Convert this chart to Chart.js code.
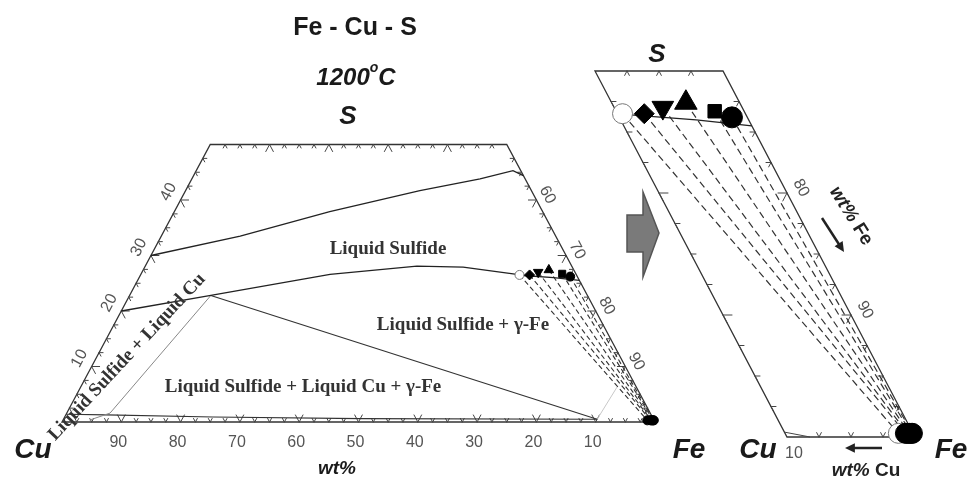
<!DOCTYPE html>
<html><head><meta charset="utf-8">
<script src="https://cdn.jsdelivr.net/npm/chart.js@4.4.1/dist/chart.umd.min.js"></script>
<style>html,body{margin:0;padding:0;background:#fff}#wrap{width:968px;height:479px;position:relative}</style>
</head><body><div id="wrap"><canvas id="c" width="968" height="479"></canvas></div>
<script>
// ---------- data (wt%, Cu = 100 - Fe - S) ----------
// liquid sulfide, S-rich boundary
const sRichFe = [0, 13.3, 26.2, 39.5, 48.6, 53.4, 55.6];
const sRichS  = [30, 33.5, 37.9, 41.7, 43.8, 45.3, 44.4];
// liquid sulfide, S-poor boundary
const sPoorFe = [0, 13.7, 31.9, 45.8, 53.7, 63.4, 64.6, 69.9, 74.5];
const sPoorS  = [20, 22.8, 26.6, 28.1, 27.9, 26.6, 26.4, 26.0, 25.5];
// three-phase triangle: liquid sulfide - gamma-Fe
const triSFe = [13.7, 90.0];
const triSS  = [22.8, 0.5];
// liquid sulfide - liquid Cu (thin)
const lsLcuFe = [13.7, 7.3, 4.5];
const lsLcuS  = [22.8, 1.6, 0.36];
// liquid Cu - gamma-Fe (near Cu-Fe side)
const lcuGamFe = [0, 6.8, 25, 50, 90.0];
const lcuGamS  = [1.4, 1.3, 0.9, 0.6, 0.5];
// gamma-Fe boundary (thin)
const gamBFe = [90.0, 90.45];
const gamBS  = [0.5, 6.3];
// corner detail in the enlarged view
const cornerFe = [89.6, 91.8];
const cornerS  = [0.4, 0.0];
// measured tie-lines: liquid sulfide end
const liqCu = [9.6, 7.9, 6.2, 4.2, 2.3, 1.2];
const liqS  = [26.5, 26.5, 27.0, 27.4, 26.7, 26.2];
// measured tie-lines: gamma-Fe end
const gamCu = [1.15, 0.6, 0.45, 0.3, 0.15, 0.05];
const gamS  = [0.3, 0.3, 0.3, 0.3, 0.3, 0.3];
const markerStyles = ['circle','rectRot','triangle','triangle','rect','circle'];
const markerRot    = [0, 0, 180, 0, 0, 0];
const markerFill   = ['#ffffff','#000','#000','#000','#000','#000'];
const markerEdge   = ['#777','#000','#000','#000','#000','#000'];
// tick labels
const leftBottomLabels = [90,80,70,60,50,40,30,20,10]; // wt% Cu
const leftSLabels  = [10,20,30,40];                     // wt% S
const leftFeLabels = [60,70,80,90];                     // wt% Fe
const rightFeLabels = [80,90];
const rightCuLabels = [10];

// ---------- ternary -> plot-unit mapping ----------
const L = {x0:62, kx:5.93, y0:422, ky:5.55};
const R = {x0:-365, kx:12.8, y0:437, ky:12.2};
function P(m, fe, s){ return {x: m.x0 + (fe + s/2)*m.kx, y: m.y0 - s*m.ky}; }
function pts(m, fes, ss){ return fes.map((f,i)=>P(m,f,ss[i])); }

function line(data, color, width, dash){
  return {type:'scatter', data, showLine:true, pointRadius:0, borderColor:color, backgroundColor:color,
    borderWidth:width, borderDash:dash||[], tension:0, order:2, fill:false, clip:false};
}
function markers(data, radii, styles, fills, edges, rots, bw){
  return {type:'scatter', data, showLine:false, pointStyle:styles, pointRotation:rots,
    pointRadius:radii, pointBackgroundColor:fills, pointBorderColor:edges, pointBorderWidth:bw, order:0, clip:false};
}

const datasets = [];
// left panel
datasets.push(line(pts(L, sRichFe, sRichS), '#222', 1.3));
datasets.push(line(pts(L, sPoorFe, sPoorS), '#222', 1.3));
datasets.push(line(pts(L, triSFe, triSS), '#333', 1.2));
datasets.push(line(pts(L, lsLcuFe, lsLcuS), '#888', 1));
datasets.push(line(pts(L, lcuGamFe, lcuGamS), '#333', 1.2));
datasets.push(line(pts(L, gamBFe, gamBS), '#c8c8c8', 1));
liqCu.forEach((c,i)=>{
  const a = P(L, 100-c-liqS[i], liqS[i]), b = P(L, 100-gamCu[i]-gamS[i], gamS[i]);
  datasets.push(line([a,b], '#333', 1.1, [5,3]));
});
datasets.push(markers(liqCu.map((c,i)=>P(L,100-c-liqS[i],liqS[i])), [4.5,5,5.5,5.5,5,4.5], markerStyles, markerFill, markerEdge, markerRot, 1));
datasets.push(markers(gamCu.map((c,i)=>P(L,100-c-gamS[i],gamS[i])), [4.5,4.5,4.5,4.5,4.5,4.5], markerStyles.map(()=> 'circle'), '#000', '#000', 0, 1));
// right (enlarged) panel
const rPoorFe = [], rPoorS = [];
sPoorFe.forEach((f,i)=>{ if (100-f-sPoorS[i] <= 10.05){ rPoorFe.push(f); rPoorS.push(sPoorS[i]); } });
datasets.push(line(pts(R, rPoorFe, rPoorS), '#222', 1.3));
datasets.push(line(pts(R, cornerFe, cornerS), '#444', 1));
liqCu.forEach((c,i)=>{
  const a = P(R, 100-c-liqS[i], liqS[i]), b = P(R, 100-gamCu[i]-gamS[i], gamS[i]);
  datasets.push(line([a,b], '#333', 1.2, [7,4]));
});
datasets.push(markers(liqCu.map((c,i)=>P(R,100-c-liqS[i],liqS[i])), [10,10,12.5,13,9.5,10.5], markerStyles, markerFill, markerEdge, markerRot, 1));
datasets.push(markers(gamCu.map((c,i)=>P(R,100-c-gamS[i],gamS[i])), [10,10,10,10,10,10], markerStyles.map(()=>'circle'), markerFill, markerEdge, 0, 1));

// ---------- frame / ticks / text plugin (through the chart scales) ----------
let SX, SY;
function px(p){ return {x: SX.getPixelForValue(p.x), y: SY.getPixelForValue(p.y)}; }
function Q(m, fe, s){ return px(P(m, fe, s)); }
function seg(ctx,a,b){ctx.beginPath();ctx.moveTo(a.x,a.y);ctx.lineTo(b.x,b.y);ctx.stroke();}
function ticks(ctx, m, pointsList, dirs, isMajor, lMin, lMaj){
  pointsList.forEach(p=>{
    const o = Q(m, p[0], p[1]);
    const len = isMajor(p) ? lMaj : lMin;
    dirs.forEach(d=>{
      const q = Q(m, p[0]+d[0], p[1]+d[1]);
      const dx=q.x-o.x, dy=q.y-o.y, n=Math.hypot(dx,dy);
      seg(ctx, o, {x:o.x+dx/n*len, y:o.y+dy/n*len});
    });
  });
}
function range(a,b,s){const r=[];for(let v=a;v<=b+1e-9;v+=s)r.push(+v.toFixed(3));return r;}
function rtext(ctx, txt, x, y, ang, font, color){
  ctx.save();ctx.translate(x,y);ctx.rotate(ang*Math.PI/180);ctx.font=font;ctx.fillStyle=color;
  ctx.textAlign='center';ctx.textBaseline='middle';ctx.fillText(txt,0,0);ctx.restore();
}
function arrow(ctx, x1,y1,x2,y2, head){
  const a=Math.atan2(y2-y1,x2-x1);
  ctx.beginPath();ctx.moveTo(x1,y1);ctx.lineTo(x2-Math.cos(a)*head*0.6,y2-Math.sin(a)*head*0.6);ctx.stroke();
  ctx.beginPath();ctx.moveTo(x2,y2);
  ctx.lineTo(x2-Math.cos(a-0.45)*head, y2-Math.sin(a-0.45)*head);
  ctx.lineTo(x2-Math.cos(a+0.45)*head, y2-Math.sin(a+0.45)*head);
  ctx.closePath();ctx.fill();
}

const framePlugin = {
  id:'frame',
  beforeDatasetsDraw(chart){
    SX = chart.scales.x; SY = chart.scales.y;
    const ctx = chart.ctx;
    ctx.save();
    ctx.strokeStyle='#333'; ctx.lineWidth=1.3; ctx.lineCap='round';
    const lc=[[0,0],[100,0],[50,50],[0,50]].map(p=>Q(L,p[0],p[1]));
    ctx.beginPath(); lc.forEach((p,i)=> i?ctx.lineTo(p.x,p.y):ctx.moveTo(p.x,p.y)); ctx.closePath(); ctx.stroke();
    const rc=[[90,0],[100,0],[70,30],[60,30]].map(p=>Q(R,p[0],p[1]));
    ctx.beginPath(); rc.forEach((p,i)=> i?ctx.lineTo(p.x,p.y):ctx.moveTo(p.x,p.y)); ctx.closePath(); ctx.stroke();
    ctx.lineWidth=1; ctx.strokeStyle='#444';
    const maj10 = v => Math.abs(v/10-Math.round(v/10))<1e-6;
    ticks(ctx, L, range(2.5,97.5,2.5).map(f=>[f,0]), [[0,1],[-1,1]], p=>maj10(p[0]), 4, 8);
    ticks(ctx, L, range(2.5,47.5,2.5).map(s=>[0,s]), [[1,0],[1,-1]], p=>maj10(p[1]), 4, 8);
    ticks(ctx, L, range(2.5,47.5,2.5).map(f=>[f,50]), [[0,-1],[1,-1]], p=>maj10(p[0]), 4, 8);
    ticks(ctx, L, range(2.5,47.5,2.5).map(s=>[100-s,s]), [[-1,0],[0,-1]], p=>maj10(p[1]), 4, 8);
    ticks(ctx, R, range(2.5,27.5,2.5).map(s=>[90-s,s]), [[1,0],[1,-1]], p=>maj10(p[1]), 5, 9);
    ticks(ctx, R, range(2.5,27.5,2.5).map(s=>[100-s,s]), [[-1,0],[0,-1]], p=>maj10(p[1]), 5, 9);
    ticks(ctx, R, range(2.5,7.5,2.5).map(c=>[70-c,30]), [[0,-1],[1,-1]], ()=>false, 5, 9);
    ticks(ctx, R, range(2.5,7.5,2.5).map(c=>[100-c,0]), [[0,1],[-1,1]], ()=>false, 5, 9);
    ctx.restore();
  },
  afterDatasetsDraw(chart){
    SX = chart.scales.x; SY = chart.scales.y;
    const ctx = chart.ctx;
    ctx.save();
    const gray='#555', TF='16px "Liberation Sans", Arial';
    leftBottomLabels.forEach(c=>{const p=Q(L,100-c,0); rtext(ctx,String(c),p.x-3,p.y+21,0,TF,gray);});
    leftSLabels.forEach(s=>{const p=Q(L,0,s); rtext(ctx,String(s),p.x-12,p.y-8,-62,TF,gray);});
    leftFeLabels.forEach(f=>{const p=Q(L,f,100-f); rtext(ctx,String(f),p.x+11,p.y-5,62,TF,gray);});
    rightFeLabels.forEach(f=>{const p=Q(R,f,100-f); rtext(ctx,String(f),p.x+14,p.y-5,62,TF,gray);});
    rightCuLabels.forEach(c=>{const p=Q(R,100-c,0); rtext(ctx,String(c),p.x+7,p.y+17,0,TF,gray);});
    const SB='"Liberation Sans", Arial';
    ctx.fillStyle='#1a1a1a'; ctx.textBaseline='alphabetic'; ctx.textAlign='left';
    ctx.font='bold 25px '+SB; let w=ctx.measureText('Fe - Cu - S').width; ctx.fillText('Fe - Cu - S',355-w/2,35);
    ctx.font='italic bold 24px '+SB; const w1=ctx.measureText('1200').width;
    ctx.font='italic bold 14px '+SB; const w2=ctx.measureText('o').width;
    ctx.font='italic bold 24px '+SB; const w3=ctx.measureText('C').width;
    let x=356-(w1+w2+w3)/2;
    ctx.fillText('1200',x,85); x+=w1;
    ctx.font='italic bold 14px '+SB; ctx.fillText('o',x,72); x+=w2;
    ctx.font='italic bold 24px '+SB; ctx.fillText('C',x,85);
    ctx.textAlign='center';
    ctx.font='italic bold 26px '+SB; ctx.fillText('S',348,124);
    ctx.font='italic bold 28px '+SB; ctx.fillText('Cu',33,458); ctx.fillText('Fe',689,458);
    ctx.font='italic bold 19px '+SB; ctx.fillText('wt%',337,474);
    ctx.font='italic bold 26px '+SB; ctx.fillText('S',657,62);
    ctx.font='italic bold 28px '+SB; ctx.fillText('Cu',758,458); ctx.fillText('Fe',951,458);
    ctx.strokeStyle='#222'; ctx.fillStyle='#222'; ctx.lineWidth=2.5;
    arrow(ctx, 882,448, 845,448, 11);
    ctx.textAlign='left';
    ctx.font='italic bold 19px '+SB; const wa=ctx.measureText('wt% ').width;
    ctx.font='bold 19px '+SB; const wb=ctx.measureText('Cu').width;
    let xs=866-(wa+wb)/2;
    ctx.font='italic bold 19px '+SB; ctx.fillText('wt% ',xs,476);
    ctx.font='bold 19px '+SB; ctx.fillText('Cu',xs+wa,476);
    ctx.save(); ctx.translate(851,216); ctx.rotate(58*Math.PI/180);
    ctx.font='italic bold 19px '+SB; const wc=ctx.measureText('wt% ').width;
    ctx.font='bold 19px '+SB; const wd=ctx.measureText('Fe').width;
    ctx.textBaseline='middle';
    ctx.font='italic bold 19px '+SB; ctx.fillText('wt% ',-(wc+wd)/2,0);
    ctx.font='bold 19px '+SB; ctx.fillText('Fe',-(wc+wd)/2+wc,0);
    ctx.restore();
    ctx.lineWidth=2.5; arrow(ctx, 822,218, 844,252, 11);
    ctx.beginPath();
    [[627,215],[643,215],[643,192],[659,233],[643,277],[643,252],[627,252]].forEach((p,i)=> i?ctx.lineTo(p[0],p[1]):ctx.moveTo(p[0],p[1]));
    ctx.closePath(); ctx.fillStyle='#7a7a7a'; ctx.fill(); ctx.strokeStyle='#555'; ctx.lineWidth=1.5; ctx.stroke();
    const SF='bold 19px "Liberation Serif", "Times New Roman", serif';
    rtext(ctx,'Liquid Sulfide',388,249,0,SF,'#333');
    rtext(ctx,'Liquid Sulfide + \u03B3-Fe',463,325,0,SF,'#333');
    rtext(ctx,'Liquid Sulfide + Liquid Cu + \u03B3-Fe',303,387,0,SF,'#333');
    rtext(ctx,'Liquid Sulfide + Liquid Cu',127,357,-47,SF,'#333');
    ctx.restore();
  }
};

new Chart(document.getElementById('c'), {
  data: {datasets},
  options: {
    responsive:false, animation:false, events:[],
    layout:{padding:0, autoPadding:false},
    plugins:{legend:{display:false}, tooltip:{enabled:false}},
    scales:{
      x:{type:'linear', min:0, max:968, display:false},
      y:{type:'linear', min:0, max:479, reverse:true, display:false}
    }
  },
  plugins:[framePlugin]
});
</script></body></html>
